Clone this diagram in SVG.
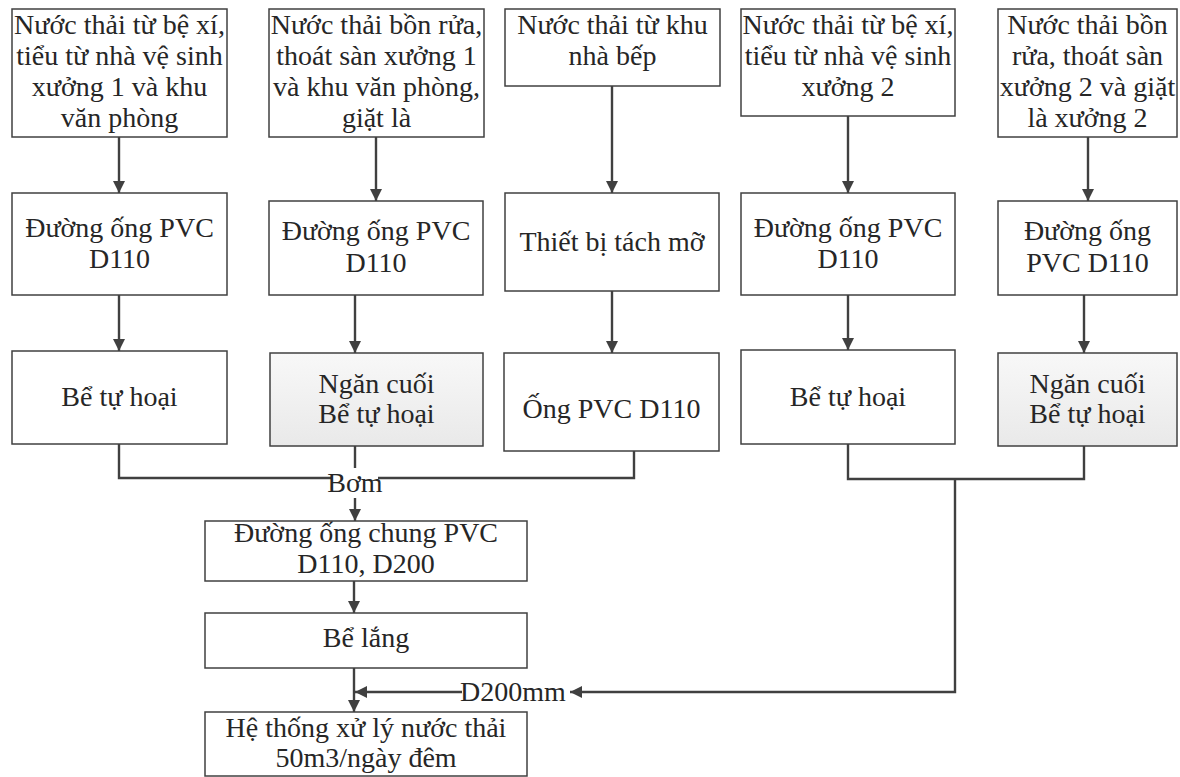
<svg xmlns="http://www.w3.org/2000/svg" width="1180" height="777" viewBox="0 0 1180 777">
<style>
  .box { fill: #ffffff; stroke: #404040; stroke-width: 1.5; }
  .gray { fill: url(#grayFill); stroke: #404040; stroke-width: 1.5; }
  .t { font-family: "Liberation Serif", "Times New Roman", serif; font-size: 28px; fill: #262626; text-anchor: middle; }
  .c { fill: none; stroke: #404040; stroke-width: 2.4; }
  .a { fill: none; stroke: #404040; stroke-width: 2.4; marker-end: url(#arr); }
</style>
<defs>
  <linearGradient id="grayFill" x1="0" y1="0" x2="0" y2="1">
    <stop offset="0" stop-color="#f8f8f8"/>
    <stop offset="1" stop-color="#e9e9e9"/>
  </linearGradient>
  <marker id="arr" viewBox="0 0 10 10" refX="10" refY="5" markerWidth="5.4" markerHeight="5" orient="auto" markerUnits="strokeWidth">
    <path d="M0,0 L10,5 L0,10 z" fill="#404040"/>
  </marker>
</defs>
<rect width="1180" height="777" fill="#ffffff"/>

<g id="connectors">
  <line class="a" x1="119" y1="137" x2="119" y2="193"/>
  <line class="a" x1="376" y1="137" x2="376" y2="201"/>
  <line class="a" x1="612" y1="86" x2="612" y2="193"/>
  <line class="a" x1="848" y1="116" x2="848" y2="193"/>
  <line class="a" x1="1088" y1="137" x2="1088" y2="201"/>
  <line class="a" x1="119" y1="295" x2="119" y2="351"/>
  <line class="a" x1="355" y1="295" x2="355" y2="353"/>
  <line class="a" x1="612" y1="291" x2="612" y2="353"/>
  <line class="a" x1="848" y1="295" x2="848" y2="350"/>
  <line class="a" x1="1084" y1="295" x2="1084" y2="353"/>
  <polyline class="c" points="119,444 119,478 634,478 634,451"/>
  <line class="c" x1="355" y1="446" x2="355" y2="470"/>
  <rect x="331" y="468" width="47" height="28" fill="#ffffff"/>
  <text class="t" x="355" y="492" font-size="26">Bơm</text>
  <line class="a" x1="355" y1="498" x2="355" y2="521"/>
  <polyline class="c" points="848,444 848,479 1084,479 1084,446"/>
  <polyline class="a" points="955,479 955,692 570,692"/>
  <text class="t" x="513" y="701">D200mm</text>
  <line class="a" x1="462" y1="692" x2="355" y2="692"/>
  <line class="a" x1="354" y1="581" x2="354" y2="613"/>
  <line class="a" x1="354" y1="668" x2="354" y2="712"/>
</g>

<g id="n1">
  <rect class="box" x="12" y="9" width="215" height="128"/>
  <text class="t" x="119.5" y="34">Nước thải từ bệ xí,</text>
  <text class="t" x="119.5" y="65">tiểu từ nhà vệ sinh</text>
  <text class="t" x="119.5" y="96">xưởng 1 và khu</text>
  <text class="t" x="119.5" y="127">văn phòng</text>
</g>
<g id="n2">
  <rect class="box" x="269" y="9" width="215" height="128"/>
  <text class="t" x="376.5" y="34">Nước thải bồn rửa,</text>
  <text class="t" x="376.5" y="65">thoát sàn xưởng 1</text>
  <text class="t" x="376.5" y="96">và khu văn phòng,</text>
  <text class="t" x="376.5" y="127">giặt là</text>
</g>
<g id="n3">
  <rect class="box" x="505" y="9" width="215" height="77"/>
  <text class="t" x="612.5" y="34">Nước thải từ khu</text>
  <text class="t" x="612.5" y="65">nhà bếp</text>
</g>
<g id="n4">
  <rect class="box" x="741" y="9" width="214" height="107"/>
  <text class="t" x="848" y="34">Nước thải từ bệ xí,</text>
  <text class="t" x="848" y="65">tiểu từ nhà vệ sinh</text>
  <text class="t" x="848" y="96">xưởng 2</text>
</g>
<g id="n5">
  <rect class="box" x="998" y="9" width="179" height="128"/>
  <text class="t" x="1087.5" y="34">Nước thải bồn</text>
  <text class="t" x="1087.5" y="65">rửa, thoát sàn</text>
  <text class="t" x="1087.5" y="96">xưởng 2 và giặt</text>
  <text class="t" x="1087.5" y="127">là xưởng 2</text>
</g>

<g id="n1b">
  <rect class="box" x="12" y="193" width="215" height="102"/>
  <text class="t" x="119.5" y="237">Đường ống PVC</text>
  <text class="t" x="119.5" y="268">D110</text>
</g>
<g id="n2b">
  <rect class="box" x="269" y="201" width="214" height="94"/>
  <text class="t" x="376" y="240">Đường ống PVC</text>
  <text class="t" x="376" y="272">D110</text>
</g>
<g id="n3b">
  <rect class="box" x="505" y="193" width="214" height="98"/>
  <text class="t" x="612" y="251">Thiết bị tách mỡ</text>
</g>
<g id="n4b">
  <rect class="box" x="741" y="193" width="214" height="102"/>
  <text class="t" x="848" y="237">Đường ống PVC</text>
  <text class="t" x="848" y="268">D110</text>
</g>
<g id="n5b">
  <rect class="box" x="998" y="201" width="179" height="94"/>
  <text class="t" x="1087.5" y="240">Đường ống</text>
  <text class="t" x="1087.5" y="272">PVC D110</text>
</g>

<g id="n1c">
  <rect class="box" x="12" y="351" width="215" height="93"/>
  <text class="t" x="119.5" y="406">Bể tự hoại</text>
</g>
<g id="n2c">
  <rect class="gray" x="270" y="353" width="213" height="93"/>
  <text class="t" x="376.5" y="393">Ngăn cuối</text>
  <text class="t" x="376.5" y="423">Bể tự hoại</text>
</g>
<g id="n3c">
  <rect class="box" x="504" y="353" width="215" height="98"/>
  <text class="t" x="611.5" y="418">Ống PVC D110</text>
</g>
<g id="n4c">
  <rect class="box" x="741" y="350" width="214" height="94"/>
  <text class="t" x="848" y="406">Bể tự hoại</text>
</g>
<g id="n5c">
  <rect class="gray" x="998" y="353" width="179" height="93"/>
  <text class="t" x="1087.5" y="393">Ngăn cuối</text>
  <text class="t" x="1087.5" y="423">Bể tự hoại</text>
</g>

<g id="n6">
  <rect class="box" x="205" y="521" width="322" height="60"/>
  <text class="t" x="366" y="542">Đường ống chung PVC</text>
  <text class="t" x="366" y="573">D110, D200</text>
</g>
<g id="n7">
  <rect class="box" x="205" y="613" width="322" height="55"/>
  <text class="t" x="366" y="647">Bể lắng</text>
</g>
<g id="n8">
  <rect class="box" x="205" y="712" width="322" height="64"/>
  <text class="t" x="366" y="737">Hệ thống xử lý nước thải</text>
  <text class="t" x="366" y="767">50m3/ngày đêm</text>
</g>
</svg>
